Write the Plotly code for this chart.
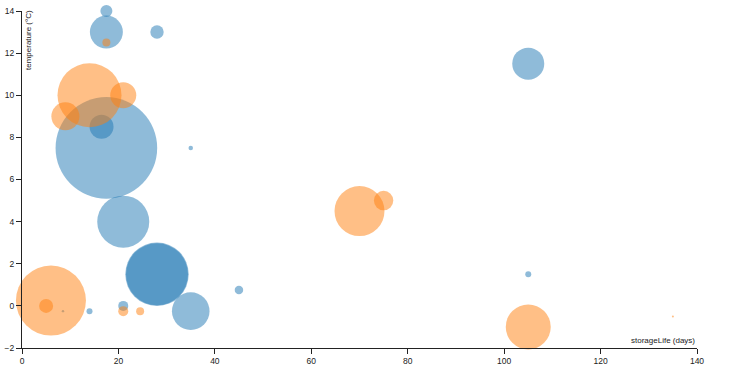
import plotly.graph_objects as go

# Blue series (storage life in days, temperature in °C, bubble weight)
blue_life = [17.5, 17.5, 28, 16.5, 17.5, 35, 21, 28, 28, 35, 45, 21, 14, 8.5, 105, 105]
blue_temp = [14, 13, 13, 8.5, 7.5, 7.5, 4, 1.5, 1.5, -0.25, 0.75, 0, -0.25, -0.25, 11.5, 1.5]
blue_value = [36, 272, 45, 144, 2581, 5, 676, 1005, 961, 353, 18, 25, 9, 1.5, 256, 9]

# Orange series
orange_life = [17.5, 14, 21, 9, 70, 75, 6, 5, 21, 24.5, 105, 135]
orange_temp = [12.5, 10, 10, 9, 4.5, 5, 0.25, 0, -0.25, -0.25, -1, -0.5]
orange_value = [16, 1024, 169, 196, 625, 94, 1225, 49, 25, 16, 506, 1]

x_ticks = [0, 20, 40, 60, 80, 100, 120, 140]
y_ticks = [-2, 0, 2, 4, 6, 8, 10, 12, 14]

FONT = "Liberation Sans, Arial, sans-serif"

fig = go.Figure()
fig.add_trace(go.Scatter(
    x=blue_life, y=blue_temp, mode="markers", cliponaxis=False,
    marker=dict(size=blue_value, sizemode="area", sizeref=0.5, sizemin=1,
                color="#1f77b4", opacity=0.5, line=dict(width=0)),
    hoverinfo="skip", showlegend=False))
fig.add_trace(go.Scatter(
    x=orange_life, y=orange_temp, mode="markers", cliponaxis=False,
    marker=dict(size=orange_value, sizemode="area", sizeref=0.5, sizemin=1,
                color="#ff7f0e", opacity=0.5, line=dict(width=0)),
    hoverinfo="skip", showlegend=False))

axis_common = dict(showline=True, linecolor="#222", linewidth=1, ticks="outside",
                   ticklen=5, tickwidth=1, tickcolor="#222", showgrid=False,
                   zeroline=False, automargin=False, layer="above traces",
                   tickfont=dict(family=FONT, size=8.5, color="#222"))
fig.update_xaxes(range=[0, 140], tickvals=x_ticks, **axis_common)
fig.update_yaxes(range=[-2, 14], tickvals=y_ticks, **axis_common)

fig.add_annotation(text="temperature (°C)", xref="paper", yref="paper",
                   x=0.0104, y=0.914, xanchor="center", yanchor="middle",
                   textangle=-90, showarrow=False,
                   font=dict(family=FONT, size=8, color="#222"))
fig.add_annotation(text="storageLife (days)", xref="paper", yref="paper",
                   x=1, y=0.021, xanchor="right", yanchor="middle",
                   showarrow=False, font=dict(family=FONT, size=8, color="#222"))

fig.update_layout(template="none", width=744, height=374,
                  margin=dict(l=22, r=47, t=11, b=26, autoexpand=False),
                  plot_bgcolor="white", paper_bgcolor="white")

fig.write_html("out.html", config={"displayModeBar": False, "staticPlot": True},
               post_script="document.body.style.margin='0';document.body.style.overflow='hidden';")
